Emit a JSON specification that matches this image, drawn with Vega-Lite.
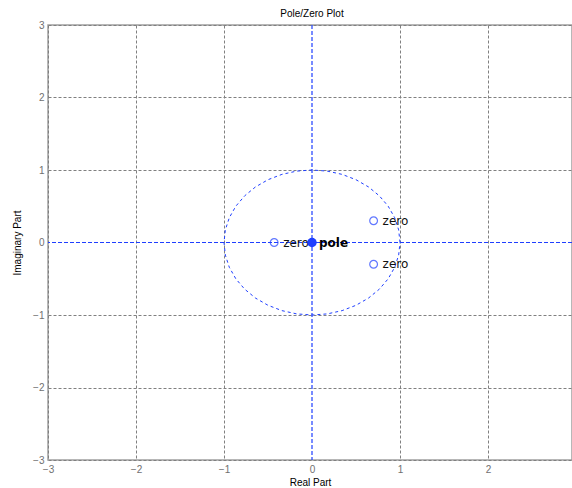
{
  "$schema": "https://vega.github.io/schema/vega-lite/v6.json",
  "width": 524,
  "height": 435,
  "autosize": "none",
  "padding": {"left": 48, "top": 25, "right": 0, "bottom": 28},
  "background": "white",
  "title": {"text": "Pole/Zero Plot", "font": "Liberation Sans", "fontSize": 10, "fontWeight": "normal", "color": "#000", "offset": 1, "dx": 2},
  "config": {
    "view": {"stroke": "#a0a0a0", "strokeWidth": 1.5},
    "axis": {
      "labelFont": "Liberation Sans", "labelFontSize": 10, "labelColor": "#707070",
      "titleFont": "Liberation Sans", "titleFontSize": 10, "titleFontWeight": "normal", "titleColor": "#000",
      "gridColor": "#808080", "gridDash": [3, 2], "gridWidth": 1,
      "gridOpacity": {"condition": {"test": "datum.value === 0", "value": 0}, "value": 1},
      "domain": false, "ticks": false, "labelFlush": false, "labelOverlap": false
    }
  },
  "datasets": {
    "circle": [
      {"i": 0, "re": 1, "im": 0},
      {"i": 1, "re": 0.9848, "im": 0.1736},
      {"i": 2, "re": 0.9397, "im": 0.342},
      {"i": 3, "re": 0.866, "im": 0.5},
      {"i": 4, "re": 0.766, "im": 0.6428},
      {"i": 5, "re": 0.6428, "im": 0.766},
      {"i": 6, "re": 0.5, "im": 0.866},
      {"i": 7, "re": 0.342, "im": 0.9397},
      {"i": 8, "re": 0.1736, "im": 0.9848},
      {"i": 9, "re": 0, "im": 1},
      {"i": 10, "re": -0.1736, "im": 0.9848},
      {"i": 11, "re": -0.342, "im": 0.9397},
      {"i": 12, "re": -0.5, "im": 0.866},
      {"i": 13, "re": -0.6428, "im": 0.766},
      {"i": 14, "re": -0.766, "im": 0.6428},
      {"i": 15, "re": -0.866, "im": 0.5},
      {"i": 16, "re": -0.9397, "im": 0.342},
      {"i": 17, "re": -0.9848, "im": 0.1736},
      {"i": 18, "re": -1, "im": 0},
      {"i": 19, "re": -0.9848, "im": -0.1736},
      {"i": 20, "re": -0.9397, "im": -0.342},
      {"i": 21, "re": -0.866, "im": -0.5},
      {"i": 22, "re": -0.766, "im": -0.6428},
      {"i": 23, "re": -0.6428, "im": -0.766},
      {"i": 24, "re": -0.5, "im": -0.866},
      {"i": 25, "re": -0.342, "im": -0.9397},
      {"i": 26, "re": -0.1736, "im": -0.9848},
      {"i": 27, "re": 0, "im": -1},
      {"i": 28, "re": 0.1736, "im": -0.9848},
      {"i": 29, "re": 0.342, "im": -0.9397},
      {"i": 30, "re": 0.5, "im": -0.866},
      {"i": 31, "re": 0.6428, "im": -0.766},
      {"i": 32, "re": 0.766, "im": -0.6428},
      {"i": 33, "re": 0.866, "im": -0.5},
      {"i": 34, "re": 0.9397, "im": -0.342},
      {"i": 35, "re": 0.9848, "im": -0.1736},
      {"i": 36, "re": 1, "im": 0}
    ],
    "roots": [
      {"re": -0.43, "im": 0, "kind": "zero"},
      {"re": 0.7, "im": 0.3, "kind": "zero"},
      {"re": 0.7, "im": -0.3, "kind": "zero"},
      {"re": 0, "im": 0, "kind": "pole"}
    ]
  },
  "encoding": {
    "x": {"field": "re", "type": "quantitative",
      "scale": {"domain": [-3, 2.9545], "nice": false, "zero": false},
      "axis": {"values": [-3, -2, -1, 0, 1, 2], "title": "Real Part", "labelPadding": 4, "titlePadding": 3}},
    "y": {"field": "im", "type": "quantitative",
      "scale": {"domain": [-3, 3], "nice": false, "zero": false},
      "axis": {"values": [-3, -2, -1, 0, 1, 2, 3], "title": "Imaginary Part", "labelPadding": 4, "titlePadding": 10}}
  },
  "layer": [
    {
      "data": {"name": "circle"},
      "mark": {"type": "line", "color": "#1f3fff", "strokeWidth": 1, "strokeDash": [3, 3]},
      "encoding": {"order": {"field": "i", "type": "quantitative"}}
    },
    {
      "data": {"values": [{"v": 0}]},
      "mark": {"type": "rule", "color": "#1f3fff", "strokeWidth": 1.2, "strokeDash": [4, 2]},
      "encoding": {"x": null, "y": {"field": "v", "type": "quantitative"}}
    },
    {
      "data": {"values": [{"v": 0}]},
      "mark": {"type": "rule", "color": "#1f3fff", "strokeWidth": 1.2, "strokeDash": [4, 2]},
      "encoding": {"y": null, "x": {"field": "v", "type": "quantitative"}}
    },
    {
      "data": {"name": "roots"},
      "transform": [{"filter": "datum.kind === 'zero'"}],
      "mark": {"type": "point", "shape": "circle", "size": 60, "filled": false, "color": "#1f3fff", "strokeWidth": 1.2}
    },
    {
      "data": {"name": "roots"},
      "transform": [{"filter": "datum.kind === 'zero'"}],
      "mark": {"type": "text", "align": "left", "baseline": "middle", "dx": 9, "dy": 0, "font": "DejaVu Sans", "fontSize": 12, "color": "#111"},
      "encoding": {"text": {"field": "kind"}}
    },
    {
      "data": {"name": "roots"},
      "transform": [{"filter": "datum.kind === 'pole'"}],
      "mark": {"type": "point", "shape": "circle", "size": 90, "filled": true, "opacity": 1, "color": "#1f3fff", "strokeWidth": 1}
    },
    {
      "data": {"name": "roots"},
      "transform": [{"filter": "datum.kind === 'pole'"}],
      "mark": {"type": "text", "align": "left", "baseline": "middle", "dx": 7, "font": "DejaVu Sans", "fontSize": 12, "fontWeight": "bold", "color": "#000"},
      "encoding": {"text": {"field": "kind"}}
    }
  ]
}
